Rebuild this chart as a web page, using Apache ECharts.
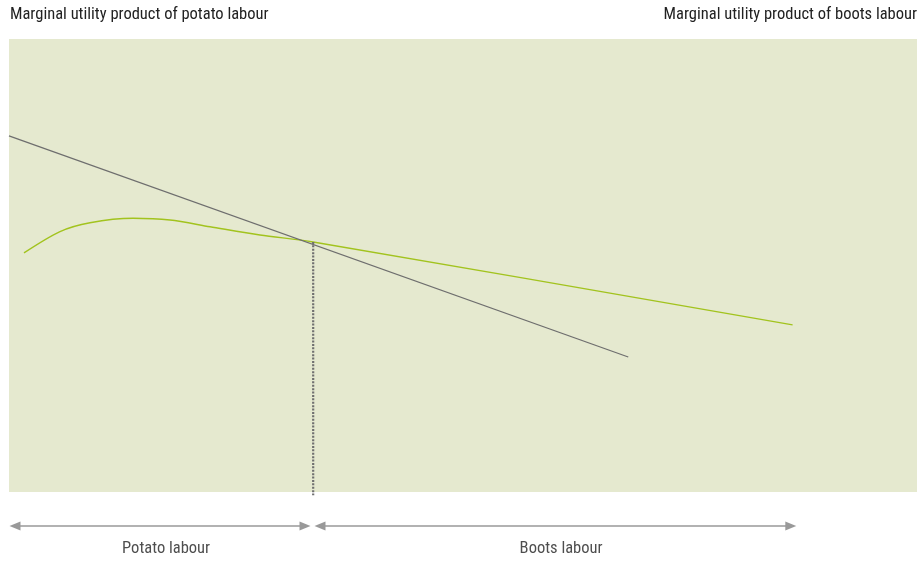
<!DOCTYPE html>
<html>
<head>
<meta charset="utf-8">
<script src="https://cdn.jsdelivr.net/npm/echarts@6/dist/echarts.min.js"></script>
<style>
  html, body { margin: 0; padding: 0; background: #fff; }
  #main { width: 920px; height: 561px; }
</style>
</head>
<body>
<div id="main"></div>
<script>
// labour split along the axis (0-100), utility on the vertical (0-100)
var potatoLine = [[0, 78.6], [68.2, 29.8]];
var bootsCurve = [[1.65, 52.8], [5.62, 57.5], [8.92, 59.45], [13.66, 60.42], [17.73, 60.04], [22.14, 58.56], [27.64, 56.73], [33.5, 55.2], [86.3, 36.9]];
var crossX = 33.5;
var crossY = 55.2;
var dropBottom = -0.7;
// lower strip: arrows and span labels
var arrowY = 63.6;
var labelY = 21.8;
var potatoSpan = [0.66, 32.6];
var bootsSpan = [34.25, 86.1];
var spanLabels = ['Potato labour', 'Boots labour'];
var labelX = [17.3, 60.8];
var leftTitle = 'Marginal utility product of potato labour';
var rightTitle = 'Marginal utility product of boots labour';

var font = "'Roboto Condensed', 'Liberation Sans Narrow', Roboto, sans-serif";
var chart = echarts.init(document.getElementById('main'));

function arrowSeries(span) {
  return {
    type: 'line',
    xAxisIndex: 1,
    yAxisIndex: 1,
    data: [[span[0], arrowY], [span[1], arrowY]],
    symbol: 'triangle',
    symbolSize: [9, 11],
    symbolRotate: function (v, p) { return p.dataIndex === 0 ? 90 : -90; },
    showSymbol: true,
    clip: false,
    itemStyle: { color: '#999999' },
    lineStyle: { color: '#999999', width: 1.3 }
  };
}

var option = {
  animation: false,
  grid: [
    { left: 9, right: 3, top: 39, bottom: 69, show: true, backgroundColor: '#e5e9cf', borderWidth: 0 },
    { left: 9, right: 3, top: 506, bottom: 0 }
  ],
  xAxis: [
    { type: 'value', min: 0, max: 100, show: false },
    { type: 'value', min: 0, max: 100, show: false, gridIndex: 1 }
  ],
  yAxis: [
    { type: 'value', min: 0, max: 100, show: false },
    { type: 'value', min: 0, max: 100, show: false, gridIndex: 1 }
  ],
  graphic: [
    { type: 'text', left: 10, top: 6, style: { text: leftTitle, font: '16.5px ' + font, fill: '#222' } },
    { type: 'text', right: 3, top: 6, style: { text: rightTitle, font: '16.5px ' + font, fill: '#222' } }
  ],
  series: [
    {
      type: 'line',
      data: potatoLine,
      symbol: 'none',
      clip: false,
      lineStyle: { color: '#6e6e6e', width: 1.3 },
      z: 3
    },
    {
      type: 'line',
      data: bootsCurve,
      symbol: 'none',
      smooth: 0.3,
      clip: false,
      lineStyle: { color: '#a2c31e', width: 1.4 },
      z: 2
    },
    {
      type: 'line',
      data: [[crossX, crossY], [crossX, dropBottom]],
      symbol: 'none',
      clip: false,
      lineStyle: { color: '#707070', width: 2.2, type: [2, 1.4] },
      z: 4
    },
    arrowSeries(potatoSpan),
    arrowSeries(bootsSpan),
    {
      type: 'scatter',
      xAxisIndex: 1,
      yAxisIndex: 1,
      symbolSize: 0,
      clip: false,
      data: spanLabels.map(function (n, i) { return { name: n, value: [labelX[i], labelY] }; }),
      label: {
        show: true,
        position: 'inside',
        color: '#222',
        fontSize: 16.5,
        fontFamily: font,
        formatter: function (p) { return p.name; }
      }
    }
  ]
};
chart.setOption(option);
</script>
</body>
</html>
